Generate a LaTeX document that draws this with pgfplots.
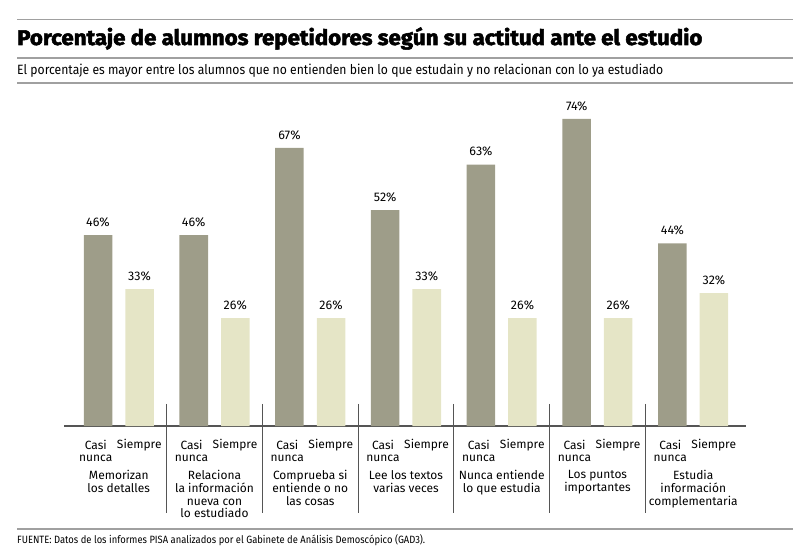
\documentclass[border=0pt]{standalone}
\usepackage{fontspec}
\setmainfont{Fira Sans}
\newfontfamily\titlefont[FakeBold=2.5, FakeStretch=1.05]{Fira Sans Bold}
\newfontfamily\narrowfont[FakeStretch=0.89]{Fira Sans}
\newfontfamily\subfont[FakeStretch=0.905]{Fira Sans}
\usepackage{pgfplots}
\pgfplotsset{compat=1.18}

\definecolor{darkbar}{HTML}{9E9D89}
\definecolor{lightbar}{HTML}{E5E5C6}
\definecolor{rule}{HTML}{A0A0A0}
\definecolor{sep}{HTML}{555555}

\begin{document}
\begin{tikzpicture}
\useasboundingbox (0,0) rectangle (800bp,558bp);

% rules and texts around the chart
\draw[rule, line width=1.3bp] (17bp,538.5bp) -- (793bp,538.5bp);
\draw[rule, line width=1.3bp] (17bp,500bp) -- (793bp,500bp);
\draw[rule, line width=1.3bp] (17bp,475bp) -- (793bp,475bp);
\draw[rule, line width=1.3bp] (17bp,29bp) -- (793bp,29bp);
\node[anchor=base west, inner sep=0pt] at (17bp,513bp)
  {\titlefont\fontsize{21.3}{23}\selectfont Porcentaje de alumnos repetidores según su actitud ante el estudio};
\node[anchor=base west, inner sep=0pt] at (17bp,483bp)
  {\subfont\fontsize{13.5}{16}\selectfont El porcentaje es mayor entre los alumnos que no entienden bien lo que estudain y no relacionan con lo ya estudiado};
\node[anchor=base west, inner sep=0pt] at (17bp,15bp)
  {\narrowfont\fontsize{10.6}{12}\selectfont FUENTE: Datos de los informes PISA analizados por el Gabinete de Análisis Demoscópico (GAD3).};

\begin{axis}[
  at={(64bp,132bp)}, anchor=south west,
  scale only axis,
  width=682bp, height=332bp,
  xmin=-0.5718, xmax=6.551,
  ymin=0, ymax=80,
  hide y axis,
  axis x line*=bottom,
  x axis line style={sep, line width=1.2bp},
  xtick={0,...,6},
  major tick length=0pt,
  xticklabels={
    {Memorizan\\los detalles},
    {Relaciona\\la información\\nueva con\\lo estudiado},
    {Comprueba si\\entiende o no\\las cosas},
    {Lee los textos\\varias veces},
    {Nunca entiende\\lo que estudia},
    {Los puntos\\importantes},
    {Estudia\\información\\complementaria}},
  xticklabel style={align=center, anchor=north, yshift=-41bp,
    font=\fontsize{12}{12.7}\selectfont},
  clip=false,
  ybar, bar width=28.5bp,
  nodes near coords={\pgfmathprintnumber{\pgfplotspointmeta}\%},
  nodes near coords style={font=\fontsize{12.5}{14}\selectfont, anchor=south,
    inner sep=0pt, yshift=8bp, /pgf/number format/assume math mode=true},
]
\addplot[draw=none, fill=darkbar, bar shift=-20.75bp]
  coordinates {(0,46) (1,46) (2,67) (3,52) (4,63) (5,74) (6,44)};
\addplot[draw=none, fill=lightbar, bar shift=20.75bp]
  coordinates {(0,33) (1,26) (2,26) (3,33) (4,26) (5,26) (6,32)};

\pgfplotsinvokeforeach{0,...,6}{
  \node[align=center, inner sep=0pt, font=\fontsize{12}{12}\selectfont]
    at ([xshift=-23bp, yshift=-25bp]axis cs:#1,0) {Casi\\nunca};
  \node[inner sep=0pt, font=\fontsize{12}{12}\selectfont]
    at ([xshift=20.5bp, yshift=-19bp]axis cs:#1,0) {Siempre};
}
\pgfplotsinvokeforeach{0.5,1.5,2.5,3.5,4.5,5.5}{
  \draw[sep, line width=1bp] ([yshift=22bp]axis cs:#1,0) -- ++(0pt,-109bp);
}
\end{axis}
\end{tikzpicture}
\end{document}
